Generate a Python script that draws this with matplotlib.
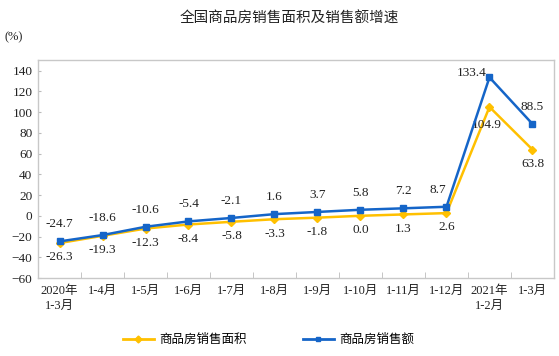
import numpy as np
import matplotlib.pyplot as plt
from matplotlib.lines import Line2D

plt.rcParams['font.family'] = ['Liberation Serif', 'Noto Sans CJK SC']

months = ['2020年\n1-3月', '1-4月', '1-5月', '1-6月', '1-7月', '1-8月', '1-9月',
          '1-10月', '1-11月', '1-12月', '2021年\n1-2月', '1-3月']
area = [-26.3, -19.3, -12.3, -8.4, -5.8, -3.3, -1.8, 0.0, 1.3, 2.6, 104.9, 63.8]
sales = [-24.7, -18.6, -10.6, -5.4, -2.1, 1.6, 3.7, 5.8, 7.2, 8.7, 133.4, 88.5]

yellow = '#FFC000'
blue = '#1565C8'
txt = '#222222'

fig = plt.figure(figsize=(5.59, 3.56), dpi=100)
ax = fig.add_axes([0.068, 0.219, 0.923, 0.612])
x = np.arange(len(months))

ax.plot(x, area, color=yellow, lw=1.8, marker='D', ms=4, zorder=3)
ax.plot(x, sales, color=blue, lw=1.8, marker='s', ms=4, zorder=4)

for i in range(len(x)):
    # blue labels above, yellow below, with a few nudged
    if i == 10:
        ax.annotate('%.1f' % sales[i], (x[i], sales[i]), xytext=(-2, 3),
                    textcoords='offset points', ha='right', va='center', fontsize=9.5, color=txt)
    elif i == 9:
        ax.annotate('%.1f' % sales[i], (x[i], sales[i]), xytext=(-6, 8),
                    textcoords='offset points', ha='center', va='bottom', fontsize=9.5, color=txt)
    else:
        ax.annotate('%.1f' % sales[i], (x[i], sales[i]), xytext=(0, 8),
                    textcoords='offset points', ha='center', va='bottom', fontsize=9.5, color=txt)
    dx = -2 if i == 10 else 0
    dy = -9 if i == 10 else -6
    ax.annotate('%.1f' % area[i], (x[i], area[i]), xytext=(dx, dy),
                textcoords='offset points', ha='center', va='top', fontsize=9.5, color=txt)

ax.set_xlim(-0.5, len(months) - 0.5)
ax.set_ylim(-60, 150)
ax.set_yticks(np.arange(-60, 141, 20))
ax.tick_params(axis='y', direction='in', length=2, color='#bbbbbb', labelsize=9.5,
               labelcolor=txt, pad=4)
ax.set_xticks(x)
ax.set_xticklabels(months, fontsize=9, color=txt, linespacing=1.3)
ax.tick_params(axis='x', length=0, pad=5)
ax.set_xticks(np.arange(0.5, len(months) - 0.5, 1), minor=True)
ax.tick_params(axis='x', which='minor', direction='in', length=4, color='#bbbbbb')
for s in ax.spines.values():
    s.set_color('#c8c8c8')
    s.set_linewidth(1)

fig.text(0.517, 0.948, '全国商品房销售面积及销售额增速', ha='center', va='center',
         fontsize=10.5, family=['Noto Sans CJK SC'], color=txt)
fig.text(0.008, 0.895, '(%)', ha='left', va='center', fontsize=9, color=txt)

handles = [Line2D([], [], color=yellow, lw=2, marker='D', ms=3.5),
           Line2D([], [], color=blue, lw=2, marker='s', ms=3.5)]
fig.legend(handles, ['商品房销售面积', '商品房销售额'], loc='center', bbox_to_anchor=(0.48, 0.045),
           ncol=2, frameon=False, fontsize=9, handlelength=2.5, columnspacing=4.5,
           handletextpad=0.4)

fig.savefig('out.png', dpi=100)
